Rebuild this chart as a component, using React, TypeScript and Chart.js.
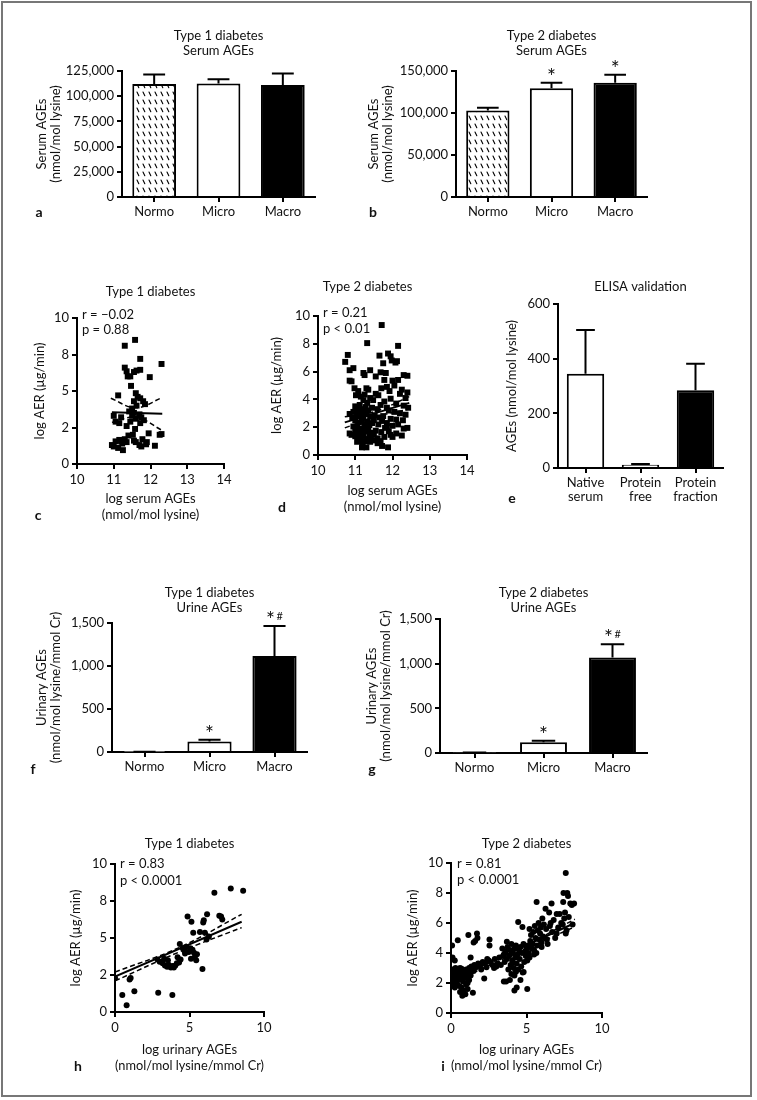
import React, { useEffect, useRef } from 'react';
import { Chart, registerables } from 'chart.js';

Chart.register(...registerables);

const FONT_FAMILY = "Lato, 'Open Sans', Arial, sans-serif";
const INK = '#111';

// ---------------- data ----------------
const GROUPS = ['Normo', 'Micro', 'Macro'];

const T1_SERUM = [112000, 112500, 111000];
const T1_SERUM_ERR = [9500, 4300, 11500];
const T1_SERUM_SIG = ['', '', ''];
const T1_SERUM_TICKS = ['0', '25,000', '50,000', '75,000', '100,000', '125,000'];

const T2_SERUM = [103000, 129500, 136000];
const T2_SERUM_ERR = [3300, 6500, 9500];
const T2_SERUM_SIG = ['', '*', '*'];
const T2_SERUM_TICKS = ['0', '50,000', '100,000', '150,000'];

const ELISA_GROUPS = [['Native', 'serum'], ['Protein', 'free'], ['Protein', 'fraction']];
const ELISA = [345, 12, 284];
const ELISA_ERR = [160, 3, 97];
const ELISA_SIG = ['', '', ''];
const ELISA_TICKS = ['0', '200', '400', '600'];

const T1_URINE = [2, 122, 1115];
const T1_URINE_ERR = [1, 20, 350];
const T1_URINE_SIG = ['', '*', '*#'];
const T2_URINE = [5, 121, 1068];
const T2_URINE_ERR = [1, 16, 150];
const T2_URINE_SIG = ['', '*', '*#'];
const URINE_TICKS = ['0', '500', '1,000', '1,500'];

const SERUM_LOG_TICKS = ['10', '11', '12', '13', '14'];
const AER_TICKS_QUARTER = ['0', '2', '5', '8', '10'];
const AER_TICKS_EVEN = ['0', '2', '4', '6', '8', '10'];
const URINE_LOG_TICKS = ['0', '5', '10'];

// Type 1: log serum AGEs vs log AER
const T1_SERUM_AER: [number, number][] = [
  [11.58, 8.5], [11.3, 8.1], [11.72, 7.2], [12.3, 6.85], [11.3, 6.6], [11.35, 6.35], [11.45, 6.0], [11.38, 6.0],
  [11.55, 6.3], [11.62, 6.4], [11.72, 6.45], [11.98, 5.95], [11.47, 5.35], [11.6, 4.85], [11.12, 4.7], [11.65, 4.6],
  [11.72, 4.5], [11.55, 4.3], [11.85, 4.1], [11.8, 4.3], [11.62, 4.0], [11.5, 3.8], [11.42, 3.6], [11.55, 3.5],
  [11.7, 3.4], [11.5, 3.3], [11.6, 3.1], [11.75, 3.2], [11.82, 3.0], [11.2, 3.2], [11.0, 3.3], [11.05, 2.9],
  [11.15, 2.8], [11.45, 2.9], [11.72, 2.8], [11.35, 2.6], [11.58, 2.4], [11.52, 2.0], [11.4, 1.95], [11.95, 2.1],
  [12.3, 2.05], [12.25, 2.0], [11.15, 1.65], [11.2, 1.55], [11.3, 1.7], [11.35, 1.5], [11.05, 1.55], [10.95, 1.3],
  [11.0, 1.2], [11.12, 1.1], [11.23, 1.4], [11.6, 1.5], [11.7, 1.3], [11.75, 1.2], [11.9, 1.5], [11.88, 1.35],
  [12.12, 1.25], [11.25, 0.95], [11.55, 1.6], [11.78, 1.7],
];
const T1_SERUM_FIT: [number, number][] = [[10.95, 3.55], [12.32, 3.45]];
const T1_SERUM_CI_HI: [number, number][] = [[10.92, 4.5], [11.6, 3.85], [12.32, 4.55]];
const T1_SERUM_CI_LO: [number, number][] = [[10.95, 2.85], [11.6, 3.2], [12.32, 2.3]];

// Type 2: log serum AGEs vs log AER
const T2_SERUM_AER: [number, number][] = [
  [11.71, 9.35], [11.32, 8.05], [12.15, 7.85], [10.8, 7.2], [11.65, 7.15], [11.88, 7.3], [11.95, 7.1], [10.73, 6.7],
  [11.75, 6.6], [12.08, 6.65], [12.12, 6.75], [11.98, 6.8], [11.4, 6.1], [10.85, 6.1], [10.95, 6.25], [11.22, 5.9],
  [11.25, 5.75], [10.85, 5.35], [10.9, 5.3], [11.68, 5.95], [11.82, 5.9], [12.3, 5.75], [12.4, 5.7], [12.0, 5.35],
  [12.15, 5.4], [11.78, 5.4], [11.55, 5.65], [12.05, 5.0], [12.25, 4.7], [12.4, 4.5], [10.98, 4.8], [11.08, 4.6],
  [11.3, 4.8], [11.35, 4.7], [11.55, 4.4], [11.62, 4.3], [11.7, 4.8], [11.85, 4.9], [11.92, 4.6], [12.2, 4.4],
  [12.35, 4.1], [11.02, 4.3], [11.15, 4.2], [11.25, 4.35], [11.4, 4.1], [11.48, 3.95], [11.78, 3.85], [11.95, 4.05],
  [12.1, 3.7], [12.3, 3.55], [12.42, 3.4], [11.0, 3.5], [11.08, 3.35], [11.12, 3.6], [11.2, 3.3], [11.28, 3.45],
  [11.35, 3.2], [11.45, 3.4], [11.6, 3.3], [11.68, 3.6], [11.85, 3.4], [11.9, 3.2], [12.05, 3.1], [12.2, 3.0],
  [12.35, 2.9], [10.95, 3.1], [10.85, 2.95], [11.05, 2.85], [11.15, 2.9], [11.22, 2.7], [11.3, 2.95], [11.4, 2.75],
  [11.52, 2.85], [11.75, 2.8], [11.95, 2.6], [12.1, 2.55], [12.28, 2.5], [11.0, 2.5], [11.1, 2.35], [11.18, 2.45],
  [11.25, 2.2], [11.32, 2.4], [11.38, 2.15], [11.45, 2.3], [11.62, 2.2], [11.72, 2.45], [11.85, 2.3], [12.0, 2.1],
  [12.15, 2.2], [12.3, 1.9], [12.4, 1.95], [10.95, 2.05], [11.05, 1.95], [11.12, 1.8], [11.2, 1.9], [11.28, 1.7],
  [11.35, 1.85], [11.42, 1.6], [11.55, 1.75], [11.7, 1.65], [11.8, 1.95], [11.9, 1.7], [12.1, 1.55], [12.25, 1.4],
  [10.85, 1.55], [10.9, 1.45], [11.0, 1.35], [11.08, 1.5], [11.15, 1.25], [11.22, 1.4], [11.3, 1.15], [11.38, 1.3],
  [11.48, 1.05], [11.6, 1.2], [11.68, 1.0], [11.78, 1.3], [11.95, 1.45], [12.0, 1.3], [11.05, 0.95], [11.12, 1.05],
  [11.2, 0.9], [11.27, 1.0], [11.4, 0.95], [11.18, 0.55], [11.3, 0.55], [11.72, 0.65], [11.88, 0.55], [11.6, 0.85],
  [11.85, 2.05], [11.5, 2.5], [11.65, 2.7], [11.1, 3.05], [11.0, 1.7], [10.92, 2.7], [11.25, 3.1], [11.32, 3.75],
  [11.22, 3.95], [11.18, 1.6], [11.34, 2.05], [11.42, 1.2], [11.5, 1.45],
];
const T2_SERUM_FIT: [number, number][] = [[10.72, 2.35], [12.45, 3.75]];
const T2_SERUM_CI_HI: [number, number][] = [[10.72, 2.75], [11.55, 3.15], [12.45, 4.2]];
const T2_SERUM_CI_LO: [number, number][] = [[10.72, 1.95], [11.55, 2.75], [12.45, 3.3]];

// Type 1: log urinary AGEs vs log AER
const T1_URINE_AER: [number, number][] = [
  [0, 2.3], [0.49, 1.15], [0.78, 0.45], [0.98, 2.2], [1.05, 2.3], [1.3, 1.4], [2.9, 1.3], [3.85, 1.15],
  [2.85, 3.55], [3.0, 3.4], [3.2, 3.3], [3.35, 3.15], [3.5, 3.05], [3.6, 3.2], [3.75, 3.0], [3.85, 3.1],
  [3.95, 3.0], [4.05, 3.15], [4.15, 3.3], [4.3, 3.35], [4.4, 3.55], [3.3, 3.6], [3.55, 3.5], [4.2, 3.7],
  [4.35, 4.6], [4.65, 4.15], [4.8, 4.4], [4.95, 4.05], [5.05, 4.3], [5.2, 4.2], [5.3, 4.0], [5.1, 3.6],
  [5.35, 3.7], [5.5, 3.9], [4.55, 4.3], [4.87, 6.45], [5.13, 6.1], [5.25, 5.35], [5.87, 2.9], [5.96, 6.2],
  [5.92, 6.05], [6.18, 6.6], [6.03, 5.35], [6.14, 4.9], [6.67, 8.05], [7.0, 6.5], [7.12, 6.45], [7.2, 6.25],
  [7.77, 8.35], [8.6, 8.2], [5.7, 5.4], [6.3, 5.1], [5.45, 3.5], [4.7, 3.95],
];
const T1_URINE_FIT: [number, number][] = [[0, 2.4], [8.5, 6.1]];
const T1_URINE_CI_HI: [number, number][] = [[0, 2.7], [4.3, 4.35], [8.5, 6.6]];
const T1_URINE_CI_LO: [number, number][] = [[0, 2.1], [4.3, 4.05], [8.5, 5.7]];

// Type 2: log urinary AGEs vs log AER
const T2_URINE_AER: [number, number][] = [
  [0, 2.1], [0.05, 2.6], [0.1, 2.4], [0.15, 2.2], [0.2, 1.9], [0.25, 2.5], [0.3, 2.3], [0.35, 2.0],
  [0.4, 2.7], [0.45, 2.4], [0.5, 2.2], [0.55, 1.8], [0.6, 2.6], [0.65, 2.5], [0.7, 2.3], [0.75, 2.8],
  [0.8, 2.1], [0.85, 2.55], [0.9, 2.7], [0.95, 2.4], [1.0, 2.9], [1.05, 2.6], [1.1, 2.3], [1.15, 2.8],
  [1.2, 3.0], [1.25, 2.7], [1.3, 2.5], [1.35, 3.1], [1.4, 2.9], [1.5, 2.8], [1.55, 3.2], [1.6, 3.0],
  [0.1, 2.9], [0.2, 2.75], [0.3, 2.65], [0.5, 2.9], [0.6, 3.0], [0.7, 2.95], [0.25, 1.7], [0.4, 1.9],
  [0.7, 1.7], [0.85, 1.5], [0.95, 1.25], [0.75, 1.15], [0.6, 1.4], [1.0, 1.9], [1.1, 2.0], [1.2, 2.2],
  [1.45, 1.35], [1.1, 1.6], [0.15, 2.5], [0.07, 4.5], [0.1, 3.7], [0.45, 4.85], [0.3, 3.0], [1.15, 5.2],
  [1.5, 4.7], [1.6, 4.8], [1.72, 5.3], [1.75, 5.0], [1.3, 3.7], [2.55, 4.9], [2.55, 4.5], [2.2, 2.3],
  [0.25, 3.5], [1.7, 3.1], [1.8, 3.3], [1.95, 3.2], [2.1, 3.4], [2.25, 3.3], [2.4, 3.6], [2.5, 3.5],
  [2.6, 3.4], [2.75, 3.2], [2.9, 3.6], [3.0, 3.1], [3.1, 3.3], [3.2, 3.7], [3.3, 3.2], [3.4, 4.3],
  [3.45, 3.8], [2.0, 2.9], [2.35, 3.05], [2.85, 3.0], [3.5, 3.9], [3.55, 3.4], [3.6, 4.1], [3.65, 2.1],
  [3.7, 3.6], [3.75, 4.4], [3.8, 2.9], [3.85, 3.8], [3.9, 4.2], [3.95, 3.2], [4.0, 4.6], [4.0, 2.6],
  [4.05, 3.5], [4.1, 4.0], [4.15, 3.0], [4.2, 4.3], [4.2, 2.5], [4.25, 3.7], [4.3, 4.5], [4.35, 3.3],
  [4.4, 3.9], [4.45, 2.9], [4.5, 4.2], [4.55, 3.6], [4.6, 4.4], [4.65, 3.1], [4.7, 4.0], [4.75, 2.7],
  [4.8, 4.6], [4.85, 3.4], [4.9, 4.1], [4.95, 3.8], [5.0, 4.3], [5.05, 3.5], [5.1, 4.5], [5.15, 4.0],
  [5.2, 3.7], [3.7, 4.75], [4.1, 3.35], [4.3, 2.75], [3.9, 2.2], [4.45, 6.07], [4.73, 5.73], [4.81, 2.73],
  [5.05, 1.6], [4.2, 1.5], [4.35, 1.7], [3.5, 2.1], [4.6, 2.2], [5.25, 4.8], [5.3, 5.2], [5.4, 4.6],
  [5.45, 5.4], [5.5, 4.2], [5.55, 5.8], [5.6, 5.0], [5.67, 7.4], [5.7, 4.5], [5.75, 5.5], [5.8, 6.0],
  [5.85, 4.9], [5.9, 5.3], [5.95, 5.7], [6.0, 4.7], [6.05, 6.3], [6.1, 5.1], [6.15, 5.9], [6.2, 5.0],
  [6.26, 6.95], [6.3, 5.6], [6.4, 4.6], [6.5, 6.7], [6.55, 5.8], [6.6, 6.0], [6.66, 7.3], [6.7, 5.4],
  [6.8, 6.2], [6.9, 5.0], [7.0, 6.6], [7.1, 5.7], [7.2, 6.6], [7.3, 6.0], [7.43, 7.4], [7.45, 8.0],
  [7.5, 6.3], [7.6, 9.33], [7.6, 5.3], [7.65, 5.5], [7.7, 8.0], [7.75, 7.8], [7.8, 6.4], [7.9, 7.3],
  [8.0, 7.2], [8.05, 5.9], [8.15, 7.3], [5.35, 4.3], [5.5, 3.9], [6.0, 4.4], [5.65, 4.0], [7.4, 5.9],
  [7.0, 5.3], [6.35, 4.9], [5.2, 5.6], [7.55, 6.7],
];
const T2_URINE_FIT: [number, number][] = [[0, 2.2], [8.2, 6.0]];
const T2_URINE_CI_HI: [number, number][] = [[0, 2.4], [4, 4.05], [8.2, 6.25]];
const T2_URINE_CI_LO: [number, number][] = [[0, 2.0], [4, 3.85], [8.2, 5.75]];

// ---------------- layout ----------------
const FS = 13;
const TITLE_LH = 15;
const YT_LH = 13.5;
const XT_LH = 16.5;

type Geo = {
  x0: number; x1: number; yTop: number; yBot: number;
  yt: number; tc: number; tn: number; xh: number; r: number; titleFull?: boolean;
};

const GEO: Record<string, Geo> = {
  a: { x0: 122, x1: 315, yTop: 71, yBot: 197, yt: 42, tc: 36, tn: 2, xh: 32, r: 6 },
  b: { x0: 456, x1: 647, yTop: 71, yBot: 197, yt: 374, tc: 36, tn: 2, xh: 32, r: 6 },
  c: { x0: 77, x1: 224, yTop: 318, yBot: 464, yt: 40, tc: 292, tn: 1, xh: 62, r: 14 },
  d: { x0: 318, x1: 467, yTop: 316, yBot: 455, yt: 277, tc: 287, tn: 1, xh: 63, r: 62, titleFull: true },
  e: { x0: 558, x1: 723, yTop: 304, yBot: 468, yt: 512, tc: 287, tn: 1, xh: 42, r: 6 },
  f: { x0: 112, x1: 307, yTop: 623, yBot: 752, yt: 42, tc: 593, tn: 2, xh: 32, r: 6 },
  g: { x0: 440, x1: 647, yTop: 619, yBot: 753, yt: 372, tc: 593, tn: 2, xh: 32, r: 6 },
  h: { x0: 115, x1: 264, yTop: 864, yBot: 1012, yt: 76, tc: 844, tn: 1, xh: 65, r: 14 },
  i: { x0: 451, x1: 602, yTop: 863, yBot: 1013, yt: 413, tc: 844, tn: 1, xh: 64, r: 14 },
};

const LETTERS: [string, number, number][] = [
  ['a', 39, 212], ['b', 373, 212], ['c', 38, 515], ['d', 282, 507], ['e', 512, 498],
  ['f', 33, 769], ['g', 372, 769], ['h', 78, 1066], ['i', 443, 1066],
];

function frame(g: Geo) {
  const left = Math.round(g.yt - YT_LH / 2 - 2);
  const yw = g.x0 - left;
  const ytPad = g.yt - YT_LH / 2 - left;
  const top = Math.floor(g.tc - TITLE_LH / 2 - 2);
  const tPadTop = g.tc - TITLE_LH / 2 - top;
  const tPadBottom = g.yTop - top - tPadTop - g.tn * TITLE_LH;
  const width = g.x1 - g.x0 + yw + g.r;
  const height = g.yBot - top + g.xh;
  return { left, top, width, height, yw, ytPad, tPadTop, tPadBottom };
}

const font = (size = FS, lineHeight = 1.2, weight: any = 'normal') => ({ family: FONT_FAMILY, size, lineHeight, weight });

// ---------------- plugins ----------------
const errBarsPlugin: any = {
  id: 'errBars',
  afterDatasetsDraw(chart: any, _args: any, opts: any) {
    if (!opts || !opts.errors) return;
    const ctx = chart.ctx;
    const meta = chart.getDatasetMeta(0);
    const ys = chart.scales.y;
    const vals = chart.data.datasets[0].data as number[];
    ctx.save();
    ctx.strokeStyle = '#000';
    ctx.fillStyle = INK;
    ctx.lineWidth = 2;
    meta.data.forEach((el: any, i: number) => {
      const v = vals[i];
      const e = opts.errors[i];
      const x = el.x;
      const half = el.width * 0.25;
      const yb = ys.getPixelForValue(v);
      const yt = ys.getPixelForValue(v + e);
      ctx.beginPath();
      ctx.moveTo(x, yb);
      ctx.lineTo(x, yt);
      ctx.moveTo(x - half, yt);
      ctx.lineTo(x + half, yt);
      ctx.stroke();
      const s: string = opts.sig ? opts.sig[i] : '';
      if (s) {
        const cy = yt - 11;
        ctx.textBaseline = 'alphabetic';
        ctx.textAlign = 'center';
        ctx.font = `21px ${FONT_FAMILY}`;
        const star = s.charAt(0);
        const rest = s.slice(1);
        if (!rest) {
          ctx.fillText(star, x, cy + 12);
        } else {
          ctx.fillText(star, x - 4, cy + 12);
          ctx.font = `11px ${FONT_FAMILY}`;
          ctx.textAlign = 'left';
          ctx.fillText(rest, x + 2, cy + 5);
        }
      }
    });
    ctx.restore();
  },
};

const notesPlugin: any = {
  id: 'notes',
  afterDraw(chart: any, _args: any, opts: any) {
    if (!opts || !opts.lines) return;
    const ctx = chart.ctx;
    const { left, top } = chart.chartArea;
    ctx.save();
    ctx.fillStyle = INK;
    ctx.font = `${FS}px ${FONT_FAMILY}`;
    ctx.textAlign = 'left';
    ctx.textBaseline = 'middle';
    opts.lines.forEach((t: string, i: number) => {
      ctx.fillText(t, left + opts.dx, top + opts.dy + i * opts.lh);
    });
    ctx.restore();
  },
};

function makeHatch(): CanvasPattern | string {
  const c = document.createElement('canvas');
  c.width = 6;
  c.height = 8;
  const x = c.getContext('2d');
  if (!x) return '#fff';
  x.fillStyle = '#fff';
  x.fillRect(0, 0, 6, 8);
  x.strokeStyle = '#000';
  x.lineWidth = 1.1;
  x.lineCap = 'round';
  x.beginPath();
  x.moveTo(2, 2);
  x.lineTo(3.8, 5.8);
  x.stroke();
  return x.createPattern(c, 'repeat') || '#fff';
}

const axisGrid = { display: true, drawOnChartArea: false, drawTicks: true, tickLength: 5, color: '#000', lineWidth: 2 };
const axisBorder = { display: true, color: '#000', width: 2 };

type BarSpec = {
  geo: Geo; title: string[]; yTitle: string[]; labels: any[]; values: number[]; errors: number[]; sig: string[];
  max: number; step: number; ticks: string[]; hatchFirst: boolean;
};

function barConfig(s: BarSpec): any {
  const f = frame(s.geo);
  const hatch = makeHatch();
  return {
    type: 'bar',
    data: {
      labels: s.labels,
      datasets: [{
        data: s.values,
        backgroundColor: [s.hatchFirst ? hatch : '#fff', '#fff', '#000'],
        borderColor: '#000',
        borderWidth: 2,
        borderSkipped: 'bottom',
        barPercentage: 0.68,
        categoryPercentage: 1,
      }],
    },
    plugins: [errBarsPlugin],
    options: {
      responsive: false,
      animation: false,
      layout: { padding: { left: 0, top: 0, bottom: 0, right: s.geo.r } },
      plugins: {
        legend: { display: false },
        tooltip: { enabled: false },
        title: {
          display: true, text: s.title, color: INK, font: font(FS, TITLE_LH / FS),
          padding: { top: f.tPadTop, bottom: f.tPadBottom }, fullSize: !!s.geo.titleFull,
        },
        errBars: { errors: s.errors, sig: s.sig },
      },
      scales: {
        x: {
          grid: { ...axisGrid, offset: false },
          border: axisBorder,
          ticks: { color: INK, font: font(FS, 14 / FS), padding: 3, maxRotation: 0, autoSkip: false },
          afterFit: (sc: any) => { sc.height = s.geo.xh; },
        },
        y: {
          min: 0, max: s.max,
          grid: axisGrid,
          border: axisBorder,
          ticks: { stepSize: s.step, color: INK, font: font(FS, 1.2), padding: 3, callback: (_v: any, i: number) => s.ticks[i] },
          title: { display: true, text: s.yTitle, color: INK, font: font(FS, YT_LH / FS), padding: { top: f.ytPad, bottom: 0 } },
          afterFit: (sc: any) => { sc.width = f.yw; },
        },
      },
    },
  };
}

type ScatterSpec = {
  geo: Geo; title: string; yTitle: string; xTitle: string[]; points: [number, number][];
  fit: [number, number][]; hi: [number, number][]; lo: [number, number][];
  xMin: number; xMax: number; xStep: number; xTicks: string[]; yStep: number; yTicks: string[];
  style: 'rect' | 'circle'; radius: number; notes: string[]; nDx: number; nDy: number; nLh: number; xtLast: number;
};

const toXY = (a: [number, number][]) => a.map(([x, y]) => ({ x, y }));

function scatterConfig(s: ScatterSpec): any {
  const f = frame(s.geo);
  const xtPadBottom = s.geo.yBot + s.geo.xh - s.xtLast - XT_LH / 2;
  const lineDs = (d: [number, number][], dashed: boolean) => ({
    data: toXY(d), showLine: true, pointRadius: 0, borderColor: '#000', backgroundColor: '#000',
    borderWidth: dashed ? 1.5 : 2, borderDash: dashed ? [5, 3] : [], tension: dashed ? 0.4 : 0, order: 0, fill: false,
  });
  return {
    type: 'scatter',
    data: {
      datasets: [
        lineDs(s.fit, false),
        lineDs(s.hi, true),
        lineDs(s.lo, true),
        {
          data: toXY(s.points), pointStyle: s.style, pointRadius: s.radius, backgroundColor: '#000',
          borderColor: '#000', borderWidth: 0, order: 1,
        },
      ],
    },
    plugins: [notesPlugin],
    options: {
      responsive: false,
      animation: false,
      layout: { padding: { left: 0, top: 0, bottom: 0, right: s.geo.r } },
      plugins: {
        legend: { display: false },
        tooltip: { enabled: false },
        title: {
          display: true, text: s.title, color: INK, font: font(FS, TITLE_LH / FS),
          padding: { top: f.tPadTop, bottom: f.tPadBottom }, fullSize: !!s.geo.titleFull,
        },
        notes: { lines: s.notes, dx: s.nDx, dy: s.nDy, lh: s.nLh },
      },
      scales: {
        x: {
          type: 'linear', min: s.xMin, max: s.xMax,
          grid: axisGrid,
          border: axisBorder,
          ticks: { stepSize: s.xStep, color: INK, font: font(FS, 1.2), padding: 3, callback: (_v: any, i: number) => s.xTicks[i] },
          title: { display: true, text: s.xTitle, color: INK, font: font(FS, XT_LH / FS), padding: { top: 0, bottom: xtPadBottom } },
          afterFit: (sc: any) => { sc.height = s.geo.xh; },
        },
        y: {
          min: 0, max: 10,
          grid: axisGrid,
          border: axisBorder,
          ticks: { stepSize: s.yStep, color: INK, font: font(FS, 1.2), padding: 3, callback: (_v: any, i: number) => s.yTicks[i] },
          title: { display: true, text: s.yTitle, color: INK, font: font(FS, YT_LH / FS), padding: { top: f.ytPad, bottom: 0 } },
          afterFit: (sc: any) => { sc.width = f.yw; },
        },
      },
    },
  };
}

function ChartBox({ geo, build }: { geo: Geo; build: () => any }) {
  const ref = useRef<HTMLCanvasElement | null>(null);
  const f = frame(geo);
  useEffect(() => {
    if (!ref.current) return;
    const chart = new Chart(ref.current, build());
    return () => chart.destroy();
  }, []);
  return (
    <canvas
      ref={ref}
      width={f.width}
      height={f.height}
      style={{ position: 'absolute', left: f.left, top: f.top, width: f.width, height: f.height }}
    />
  );
}

export default function App() {
  return (
    <div style={{ position: 'absolute', left: 0, top: 0, width: 757, height: 1100, overflow: 'hidden', background: '#fff', fontFamily: FONT_FAMILY }}>
      <div style={{ position: 'absolute', left: 1, top: 1, width: 747, height: 1092, border: '2px solid #777' }} />
      <ChartBox geo={GEO.a} build={() => barConfig({
        geo: GEO.a, title: ['Type 1 diabetes', 'Serum AGEs'], yTitle: ['Serum AGEs', '(nmol/mol lysine)'],
        labels: GROUPS, values: T1_SERUM, errors: T1_SERUM_ERR, sig: T1_SERUM_SIG, max: 125000, step: 25000,
        ticks: T1_SERUM_TICKS, hatchFirst: true,
      })} />
      <ChartBox geo={GEO.b} build={() => barConfig({
        geo: GEO.b, title: ['Type 2 diabetes', 'Serum AGEs'], yTitle: ['Serum AGEs', '(nmol/mol lysine)'],
        labels: GROUPS, values: T2_SERUM, errors: T2_SERUM_ERR, sig: T2_SERUM_SIG, max: 150000, step: 50000,
        ticks: T2_SERUM_TICKS, hatchFirst: true,
      })} />
      <ChartBox geo={GEO.c} build={() => scatterConfig({
        geo: GEO.c, title: 'Type 1 diabetes', yTitle: 'log AER (µg/min)', xTitle: ['log serum AGEs', '(nmol/mol lysine)'],
        points: T1_SERUM_AER, fit: T1_SERUM_FIT, hi: T1_SERUM_CI_HI, lo: T1_SERUM_CI_LO,
        xMin: 10, xMax: 14, xStep: 1, xTicks: SERUM_LOG_TICKS, yStep: 2.5, yTicks: AER_TICKS_QUARTER,
        style: 'rect', radius: 4.2, notes: ['r = −0.02', 'p = 0.88'], nDx: 5, nDy: -3, nLh: 15, xtLast: 515,
      })} />
      <ChartBox geo={GEO.d} build={() => scatterConfig({
        geo: GEO.d, title: 'Type 2 diabetes', yTitle: 'log AER (µg/min)', xTitle: ['log serum AGEs', '(nmol/mol lysine)'],
        points: T2_SERUM_AER, fit: T2_SERUM_FIT, hi: T2_SERUM_CI_HI, lo: T2_SERUM_CI_LO,
        xMin: 10, xMax: 14, xStep: 1, xTicks: SERUM_LOG_TICKS, yStep: 2, yTicks: AER_TICKS_EVEN,
        style: 'rect', radius: 4.2, notes: ['r = 0.21', 'p < 0.01'], nDx: 5, nDy: -3, nLh: 16, xtLast: 507,
      })} />
      <ChartBox geo={GEO.e} build={() => barConfig({
        geo: GEO.e, title: ['ELISA validation'], yTitle: ['AGEs (nmol/mol lysine)'],
        labels: ELISA_GROUPS, values: ELISA, errors: ELISA_ERR, sig: ELISA_SIG, max: 600, step: 200,
        ticks: ELISA_TICKS, hatchFirst: false,
      })} />
      <ChartBox geo={GEO.f} build={() => barConfig({
        geo: GEO.f, title: ['Type 1 diabetes', 'Urine AGEs'], yTitle: ['Urinary AGEs', '(nmol/mol lysine/mmol Cr)'],
        labels: GROUPS, values: T1_URINE, errors: T1_URINE_ERR, sig: T1_URINE_SIG, max: 1500, step: 500,
        ticks: URINE_TICKS, hatchFirst: true,
      })} />
      <ChartBox geo={GEO.g} build={() => barConfig({
        geo: GEO.g, title: ['Type 2 diabetes', 'Urine AGEs'], yTitle: ['Urinary AGEs', '(nmol/mol lysine/mmol Cr)'],
        labels: GROUPS, values: T2_URINE, errors: T2_URINE_ERR, sig: T2_URINE_SIG, max: 1500, step: 500,
        ticks: URINE_TICKS, hatchFirst: true,
      })} />
      <ChartBox geo={GEO.h} build={() => scatterConfig({
        geo: GEO.h, title: 'Type 1 diabetes', yTitle: 'log AER (µg/min)', xTitle: ['log urinary AGEs', '(nmol/mol lysine/mmol Cr)'],
        points: T1_URINE_AER, fit: T1_URINE_FIT, hi: T1_URINE_CI_HI, lo: T1_URINE_CI_LO,
        xMin: 0, xMax: 10, xStep: 5, xTicks: URINE_LOG_TICKS, yStep: 2.5, yTicks: AER_TICKS_QUARTER,
        style: 'circle', radius: 3, notes: ['r = 0.83', 'p < 0.0001'], nDx: 5, nDy: 0, nLh: 17, xtLast: 1066,
      })} />
      <ChartBox geo={GEO.i} build={() => scatterConfig({
        geo: GEO.i, title: 'Type 2 diabetes', yTitle: 'log AER (µg/min)', xTitle: ['log urinary AGEs', '(nmol/mol lysine/mmol Cr)'],
        points: T2_URINE_AER, fit: T2_URINE_FIT, hi: T2_URINE_CI_HI, lo: T2_URINE_CI_LO,
        xMin: 0, xMax: 10, xStep: 5, xTicks: URINE_LOG_TICKS, yStep: 2, yTicks: AER_TICKS_EVEN,
        style: 'circle', radius: 3, notes: ['r = 0.81', 'p < 0.0001'], nDx: 6, nDy: 1, nLh: 16, xtLast: 1066,
      })} />
      {LETTERS.map(([t, x, y]) => (
        <span key={t} style={{
          position: 'absolute', left: x, top: y, transform: 'translate(-50%, -50%)', fontWeight: 700,
          fontSize: 14, lineHeight: 1, color: INK,
        }}>{t}</span>
      ))}
    </div>
  );
}
